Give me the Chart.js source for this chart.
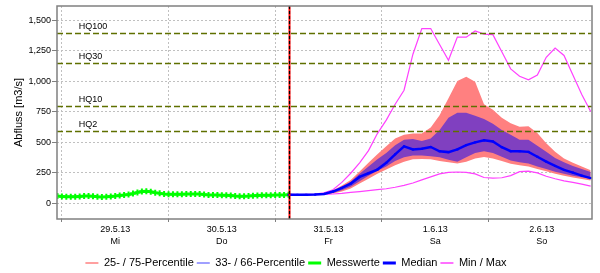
<!DOCTYPE html>
<html lang="de">
<head>
  <meta charset="UTF-8">
  <title>Abfluss Vorhersage</title>
  <script src="https://cdn.jsdelivr.net/npm/chart.js"></script>
  <style>
    body { margin: 0; background: #fff; }
  </style>
</head>
<body>
  <canvas id="grafica" width="600" height="273"></canvas>
  <script>
// Zeitachse: Stunden ab 29.5.13 00:00
const tage = ['29.5.13', '30.5.13', '31.5.13', '1.6.13', '2.6.13'];
const wochentage = ['Mi', 'Do', 'Fr', 'Sa', 'So'];
const yTicks = [0, 250, 500, 750, 1000, 1250, 1500];

const messStunden = [-1, 0, 1, 2, 3, 4, 5, 6, 7, 8, 9, 10, 11, 12, 13, 14, 15, 16, 17, 18, 19, 20,
  21, 22, 23, 24, 25, 26, 27, 28, 29, 30, 31, 32, 33, 34, 35, 36, 37, 38, 39, 40, 41, 42, 43, 44,
  45, 46, 47, 48, 49, 50, 51];
const messwerte = [58, 55, 52, 53, 52, 55, 58, 58, 56, 52, 50, 52, 55, 58, 62, 66, 70, 78, 88, 95, 97, 93,
  86, 80, 75, 73, 72, 72, 73, 74, 75, 75, 74, 70, 67, 66, 66, 65, 64, 62, 58, 56, 56, 58, 61, 63,
  64, 64, 65, 66, 66, 67, 68];

const prognoseStunden = [51, 53, 55, 57, 59, 61, 63, 65, 67, 69, 71, 73, 75, 77, 79, 81, 83, 85,
  87, 89, 91, 93, 95, 97, 99, 101, 103, 105, 107, 109, 111, 113, 115, 117, 119];
const median = [68, 68, 68, 70, 75, 95, 125, 160, 215, 245, 275, 330, 400, 465, 440, 445, 460, 425,
  418, 440, 475, 498, 515, 505, 458, 425, 425, 420, 380, 340, 305, 272, 250, 225, 205];
const p25 = [68, 66, 66, 68, 70, 78, 95, 120, 160, 200, 240, 275, 310, 340, 360, 362, 360, 345,
  335, 325, 340, 365, 378, 365, 345, 323, 310, 300, 280, 262, 240, 225, 210, 198, 185];
const p75 = [70, 70, 70, 72, 80, 105, 145, 190, 260, 330, 400, 465, 530, 560, 570, 570, 620, 720,
  860, 1000, 1035, 995, 810, 765, 700, 655, 625, 630, 575, 490, 420, 365, 330, 300, 270];
const p33 = [68, 67, 67, 69, 72, 82, 105, 135, 180, 225, 265, 300, 345, 375, 390, 390, 385, 375,
  355, 340, 375, 410, 425, 410, 380, 350, 335, 325, 300, 280, 258, 240, 225, 212, 200];
const p66 = [70, 70, 70, 71, 78, 98, 135, 175, 240, 300, 360, 410, 475, 520, 525, 510, 530, 600,
  700, 740, 740, 715, 690, 650, 600, 560, 520, 520, 470, 420, 370, 335, 305, 280, 255];
const minimum = [70, 68, 68, 70, 72, 75, 80, 88, 95, 103, 110, 118, 130, 145, 165, 190, 215, 240,
  252, 255, 252, 240, 210, 205, 208, 225, 258, 262, 248, 220, 200, 182, 170, 155, 140];
const maximum = [75, 70, 72, 75, 85, 110, 170, 245, 330, 430, 570, 680, 810, 925, 1220, 1430, 1430, 1300,
  1170, 1360, 1360, 1410, 1385, 1380, 1240, 1100, 1040, 1010, 1050, 1195, 1270, 1210, 1050, 890, 750];

const hqNamen = ['HQ100', 'HQ30', 'HQ10', 'HQ2'];
const hqWerte = [1395, 1148, 795, 592];
const jetzt = 51.1;

const legendeNamen = ['25- / 75-Percentile', '33- / 66-Percentile', 'Messwerte', 'Median', 'Min / Max'];
const legendeFarben = ['#ff8080', '#8080ff', '#00ff00', '#0000ff', '#ff40ff'];
const legendeBreiten = [1.5, 1.5, 3, 3, 1.5];

const schrift = "'Liberation Sans', Arial, sans-serif";

function punkte(xs, ys) {
  return xs.map((x, i) => ({ x: x, y: ys[i] }));
}

// HQ-Linien, Jetzt-Linie und Rahmen
const extras = {
  id: 'extras',
  afterDatasetsDraw(chart) {
    const { ctx, chartArea: a, scales: { x, y } } = chart;
    ctx.save();
    ctx.beginPath();
    ctx.rect(a.left, a.top, a.right - a.left, a.bottom - a.top);
    ctx.clip();
    ctx.strokeStyle = '#5f7000';
    ctx.lineWidth = 1.5;
    ctx.setLineDash([6, 3]);
    ctx.fillStyle = '#000';
    ctx.font = '9px ' + schrift;
    ctx.textBaseline = 'bottom';
    hqWerte.forEach((v, i) => {
      const py = Math.round(y.getPixelForValue(v)) + 0.5;
      ctx.beginPath();
      ctx.moveTo(a.left, py);
      ctx.lineTo(a.right, py);
      ctx.stroke();
      ctx.fillText(hqNamen[i], x.getPixelForValue(3.8), py - 2);
    });
    const px = Math.round(x.getPixelForValue(jetzt)) + 0.5;
    ctx.setLineDash([]);
    ctx.strokeStyle = '#ff0000';
    ctx.lineWidth = 2;
    ctx.beginPath();
    ctx.moveTo(px, a.top);
    ctx.lineTo(px, a.bottom);
    ctx.stroke();
    ctx.setLineDash([3, 2]);
    ctx.strokeStyle = '#000';
    ctx.lineWidth = 1.2;
    ctx.beginPath();
    ctx.moveTo(px, a.top);
    ctx.lineTo(px, a.bottom);
    ctx.stroke();
    ctx.restore();
  },
  afterDraw(chart) {
    const { ctx, chartArea: a } = chart;
    ctx.save();
    ctx.strokeStyle = '#808080';
    ctx.lineWidth = 1.5;
    ctx.strokeRect(a.left, a.top, a.right - a.left, a.bottom - a.top);
    ctx.restore();
  }
};

const ctx = document.getElementById('grafica').getContext('2d');
new Chart(ctx, {
  type: 'line',
  data: {
    datasets: [
      { label: 'Median', data: punkte(prognoseStunden, median), borderColor: '#0000ff', borderWidth: 2.5,
        pointStyle: 'rect', pointRadius: 1.5, pointBackgroundColor: '#0000ff', pointBorderWidth: 0, fill: false },
      { label: 'Messwerte', data: punkte(messStunden, messwerte), borderColor: '#00ff00', borderWidth: 3,
        pointStyle: 'cross', pointRadius: 3, pointBorderColor: '#00ff00', pointBorderWidth: 2, fill: false },
      { label: 'Max', data: punkte(prognoseStunden, maximum), borderColor: '#ff40ff', borderWidth: 1.2, pointRadius: 0, fill: false },
      { label: 'Min', data: punkte(prognoseStunden, minimum), borderColor: '#ff40ff', borderWidth: 1.2, pointRadius: 0, fill: false },
      { label: '66', data: punkte(prognoseStunden, p66), borderWidth: 0, pointRadius: 0, fill: '+1', backgroundColor: '#8040c0' },
      { label: '33', data: punkte(prognoseStunden, p33), borderWidth: 0, pointRadius: 0, fill: false },
      { label: '75', data: punkte(prognoseStunden, p75), borderWidth: 0, pointRadius: 0, fill: '+1', backgroundColor: '#ff8080' },
      { label: '25', data: punkte(prognoseStunden, p25), borderWidth: 0, pointRadius: 0, fill: false }
    ]
  },
  options: {
    responsive: false,
    animation: false,
    devicePixelRatio: 1,
    layout: { padding: { top: 2.5, right: 8, bottom: 0, left: 0 } },
    elements: { line: { tension: 0 } },
    scales: {
      x: {
        type: 'linear',
        min: -1.1,
        max: 119.3,
        afterBuildTicks: s => {
          s.ticks = [];
          tage.forEach((t, i) => {
            s.ticks.push({ value: i * 24 });
            s.ticks.push({ value: i * 24 + 12 });
          });
        },
        afterFit: s => { s.height = 35.5; },
        ticks: {
          autoSkip: false, maxRotation: 0, padding: 1, color: '#000',
          font: { family: schrift, size: 9, lineHeight: 1.35 },
          callback: v => v % 24 === 12 ? [tage[(v - 12) / 24], wochentage[(v - 12) / 24]] : ''
        },
        grid: {
          color: c => (c.tick && c.tick.value % 24 === 0) ? '#c0c0c0' : 'rgba(0,0,0,0)',
          tickColor: c => (c.tick && c.tick.value % 24 === 0) ? '#808080' : 'rgba(0,0,0,0)',
          tickLength: 3
        },
        border: { display: false, dash: [2, 2] }
      },
      y: {
        min: -130,
        max: 1615,
        afterBuildTicks: s => { s.ticks = yTicks.map(v => ({ value: v })); },
        afterFit: s => { s.width = 57; },
        ticks: {
          color: '#000', padding: 1,
          font: { family: schrift, size: 9, lineHeight: 0.8 },
          callback: v => v.toLocaleString('en-US')
        },
        grid: { color: '#c0c0c0', tickColor: '#808080', tickLength: 5 },
        border: { display: false, dash: [2, 2] },
        title: {
          display: true, text: 'Abfluss [m3/s]', color: '#000',
          font: { family: schrift, size: 11 }, padding: { top: 12, bottom: 0 }
        }
      }
    },
    plugins: {
      tooltip: { enabled: false },
      legend: {
        position: 'bottom',
        maxHeight: 18.5,
        onClick: () => {},
        labels: {
          usePointStyle: true, pointStyleWidth: 13, padding: 3, color: '#000',
          font: { family: schrift, size: 11 },
          generateLabels: () => legendeNamen.map((n, i) => ({
            text: n, strokeStyle: legendeFarben[i], fillStyle: legendeFarben[i],
            lineWidth: legendeBreiten[i], pointStyle: 'line', hidden: false, datasetIndex: i
          }))
        }
      }
    }
  },
  plugins: [extras]
});
  </script>
</body>
</html>
